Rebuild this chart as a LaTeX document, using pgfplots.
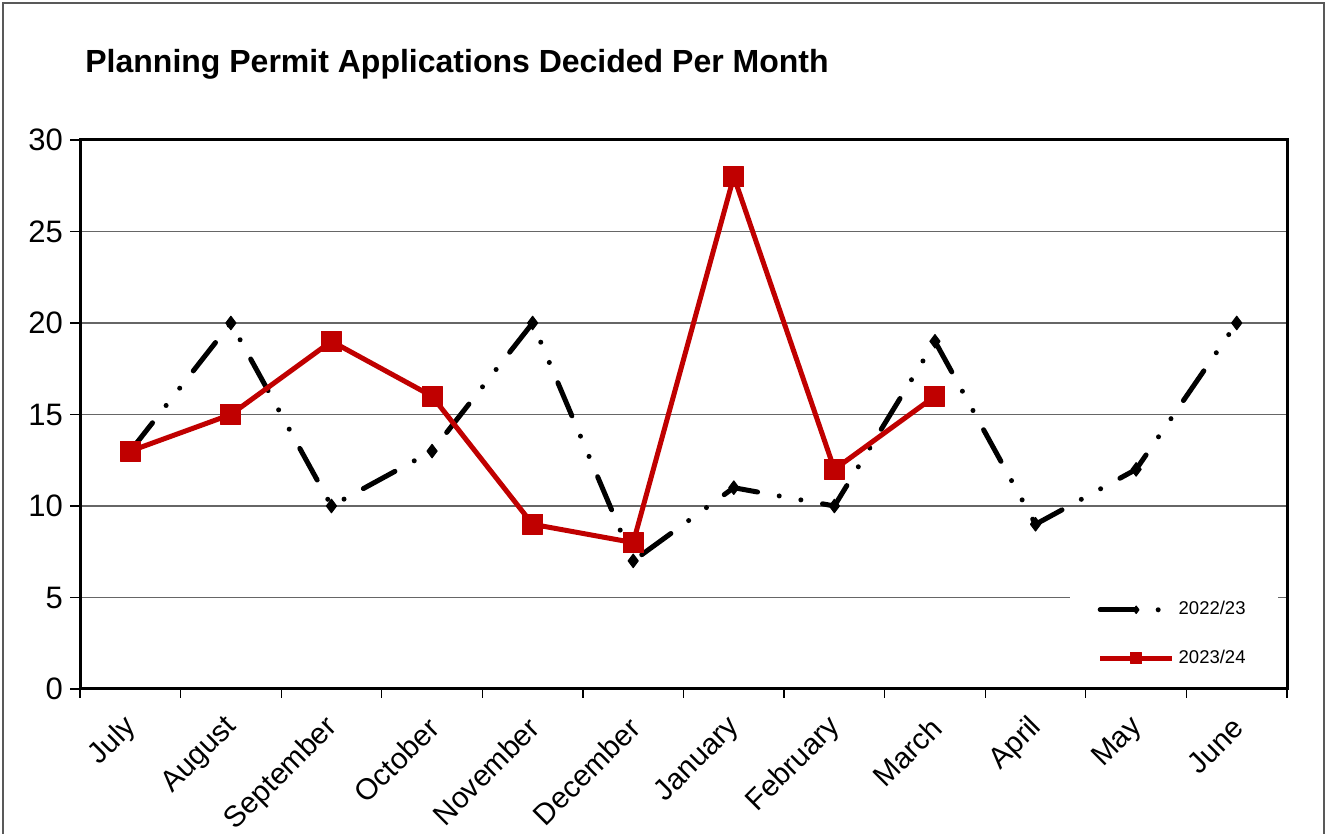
\documentclass[border=0pt]{standalone}
\usepackage{fontspec}
\setmainfont{Liberation Sans}
\usepackage{pgfplots}
\pgfplotsset{compat=1.18}
\definecolor{darkred}{RGB}{192,0,0}
\begin{document}
\begin{tikzpicture}
\useasboundingbox (0,0) rectangle (664pt,417pt);
\draw[gray!70!black, line width=1pt] (1.5pt,-5pt) -- (1.5pt,415.5pt) -- (662pt,415.5pt) -- (662pt,-5pt);
\node[anchor=base west, inner sep=0pt, font=\bfseries\fontsize{16}{19}\selectfont] at (42.5pt,380.5pt) {Planning Permit Applications Decided Per Month};
\begin{axis}[
  at={(40pt,72.5pt)}, anchor=south west,
  scale only axis, width=603.5pt, height=274.5pt,
  xmin=-0.5, xmax=11.5, ymin=0, ymax=30,
  xtick={0,...,11},
  xticklabels={July,August,September,October,November,December,January,February,March,April,May,June},
  minor xtick={-0.5,0.5,...,11.5},
  ytick={0,5,...,30},
  major x tick style={draw=none},
  tick align=outside,
  xtick pos=bottom, ytick pos=left,
  major tick length=5pt, minor tick length=4.5pt,
  every tick/.style={black, line width=0.6pt},
  axis line style={line width=1.5pt, black},
  ymajorgrids, grid style={gray!80!black, line width=0.6pt},
  /pgf/number format/assume math mode=true,
  yticklabel style={font=\fontsize{15.5}{18}\selectfont},
  xticklabel style={font=\fontsize{14.8}{18}\selectfont, xshift=3.25pt, yshift=-9.5pt, rotate=45, anchor=east},
  legend style={at={(0.9925,0.004)}, anchor=south east, draw=none, fill=white,
    font=\fontsize{9.25}{11}\selectfont, inner xsep=14pt, inner ysep=8pt, row sep=12pt},
  legend cell align=left,
  legend image code/.code={\draw[mark repeat=2,mark phase=2,#1, every mark/.append style={scale=0.55}] plot coordinates {(0pt,0pt) (18pt,0pt) (36pt,0pt)};},
  clip=false,
]
\addplot[black, line width=2.5pt, line cap=round, line join=round,
  dash pattern=on 18pt off 11pt on 0pt off 11pt on 0pt off 11pt,
  mark=diamond*, mark size=3.4pt, mark options={solid, line width=0.5pt}]
  coordinates {(0,13) (1,20) (2,10) (3,13) (4,20) (5,7) (6,11) (7,10) (8,19) (9,9) (10,12) (11,20)};
\addlegendentry{2022/23}
\addplot[darkred, line width=2.5pt, line join=round,
  mark=square*, mark size=5pt, mark options={solid, line width=0.5pt}]
  coordinates {(0,13) (1,15) (2,19) (3,16) (4,9) (5,8) (6,28) (7,12) (8,16)};
\addlegendentry{2023/24}
\end{axis}
\end{tikzpicture}
\end{document}
